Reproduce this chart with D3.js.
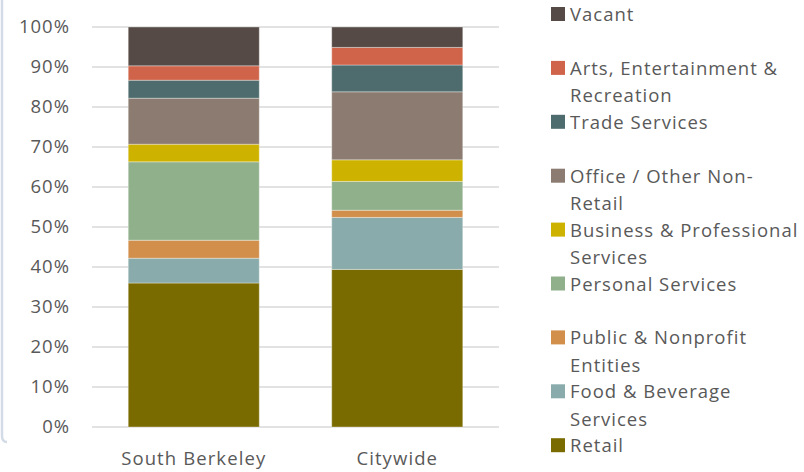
<!DOCTYPE html>
<html>
<head>
<meta charset="utf-8">
<script src="https://cdn.jsdelivr.net/npm/d3@7"></script>
<style>
  html, body { margin: 0; padding: 0; background: #fff; }
  svg { display: block; font-family: "Open Sans", sans-serif; }
</style>
</head>
<body>
<svg id="chart" width="804" height="472"></svg>
<script>
// ---- data ----
const categories = ["South Berkeley", "Citywide"];
const seriesNames = ["Retail", "Food & Beverage Services", "Public & Nonprofit Entities",
  "Personal Services", "Business & Professional Services", "Office / Other Non-Retail",
  "Trade Services", "Arts, Entertainment & Recreation", "Vacant"];
const legendLines = [
  ["Retail"], ["Food & Beverage", "Services"], ["Public & Nonprofit", "Entities"],
  ["Personal Services"], ["Business & Professional", "Services"], ["Office / Other Non-", "Retail"],
  ["Trade Services"], ["Arts, Entertainment &", "Recreation"], ["Vacant"]];
const southBerkeley = [36.0, 6.2, 4.5, 19.6, 4.4, 11.5, 4.5, 3.6, 9.7];
const citywide      = [39.4, 13.0, 1.8, 7.2, 5.4, 17.0, 6.7, 4.4, 5.1];
const seriesColors = ["#7a6b00", "#8aabab", "#d18f4b", "#90b08b", "#cdb300",
  "#8b7b70", "#4e6c6d", "#d0644a", "#554a45"];
const yTicks = [0, 0.1, 0.2, 0.3, 0.4, 0.5, 0.6, 0.7, 0.8, 0.9, 1.0];

// ---- layout ----
const svg = d3.select("#chart");
const plot = { left: 92, right: 499, top: 27, bottom: 427 };

// left frame edge
svg.append("path")
  .attr("d", "M2,0 L2,436 Q2,442 7,442")
  .attr("fill", "none").attr("stroke", "#d3dce6").attr("stroke-width", 2.5);

const x = d3.scaleBand().domain(categories).range([plot.left, plot.right])
  .paddingInner(0.356).paddingOuter(0.178);
const y = d3.scaleLinear().domain([0, 1]).range([plot.bottom, plot.top]);

// gridlines
svg.append("g").selectAll("line").data(yTicks).join("line")
  .attr("x1", plot.left).attr("x2", plot.right)
  .attr("y1", d => y(d)).attr("y2", d => y(d))
  .attr("stroke", "#d9d9d9").attr("stroke-width", 1.5);

// y axis labels
const yAxis = d3.axisLeft(y).tickValues(yTicks).tickFormat(d3.format(".0%")).tickSize(0).tickPadding(0);
const ya = svg.append("g").attr("transform", `translate(70,0)`).call(yAxis);
ya.select(".domain").remove();
ya.selectAll("text").attr("font-size", 18.5).attr("fill", "#595959")
  .attr("letter-spacing", 1)
  .attr("font-family", "Open Sans, sans-serif");

// stack
const rows = categories.map((c, i) => {
  const r = { cat: c };
  const vals = i === 0 ? southBerkeley : citywide;
  const total = d3.sum(vals);
  seriesNames.forEach((s, j) => r[s] = vals[j] / total);
  return r;
});
const stacked = d3.stack().keys(seriesNames)(rows);

svg.append("g").selectAll("g").data(stacked).join("g")
  .attr("fill", (d, i) => seriesColors[i])
  .selectAll("rect").data(d => d).join("rect")
  .attr("x", d => x(d.data.cat))
  .attr("width", x.bandwidth())
  .attr("y", d => y(d[1]))
  .attr("height", d => y(d[0]) - y(d[1]))
  .attr("stroke", "rgba(255,255,255,0.35)").attr("stroke-width", 1);

// x axis labels
const xAxis = d3.axisBottom(x).tickSize(0).tickPadding(0);
const xa = svg.append("g").attr("transform", `translate(0,${plot.bottom})`).call(xAxis);
xa.select(".domain").remove();
xa.selectAll("text").attr("font-size", 18.5).attr("fill", "#595959")
  .attr("letter-spacing", 1.1)
  .attr("dy", null).attr("y", 38)
  .attr("font-family", "Open Sans, sans-serif");

// legend (top: Vacant, bottom: Retail)
const legendOrder = d3.range(seriesNames.length).reverse();
const lg = svg.append("g");
legendOrder.forEach((si, k) => {
  const cy = 14 + k * 53.9;
  const g = lg.append("g").attr("transform", `translate(551,${cy})`);
  g.append("rect").attr("x", 0).attr("y", -7).attr("width", 14).attr("height", 14)
    .attr("fill", seriesColors[si]);
  legendLines[si].forEach((line, li) => {
    g.append("text").attr("x", 19).attr("y", 7 + li * 27.6)
      .attr("font-size", 18.5).attr("letter-spacing", 1).attr("fill", "#595959").text(line);
  });
});
</script>
</body>
</html>
